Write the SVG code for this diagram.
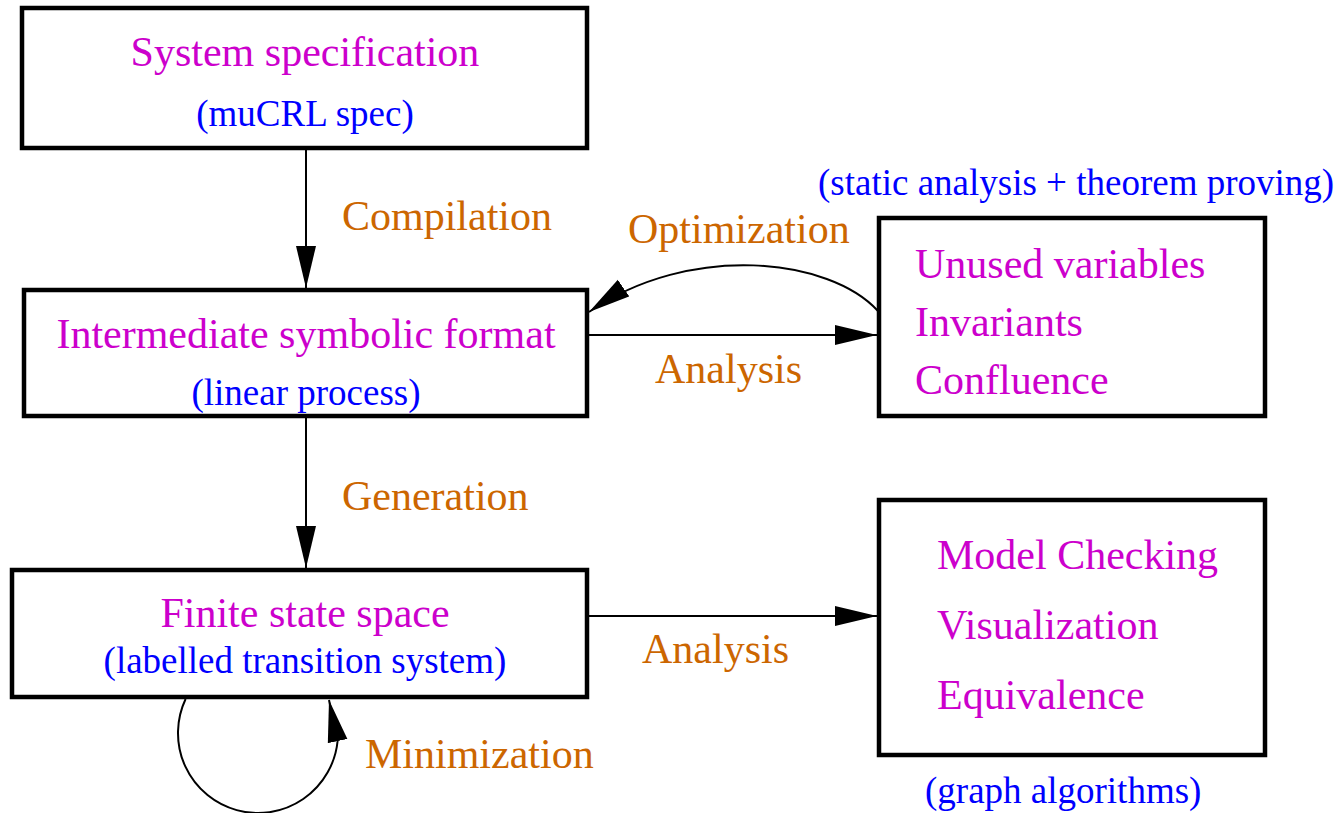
<svg xmlns="http://www.w3.org/2000/svg" width="1341" height="813" viewBox="0 0 1341 813">
  <defs>
    <marker id="arrow" markerUnits="userSpaceOnUse" markerWidth="44" markerHeight="22" viewBox="0 0 44 22" refX="42" refY="11" orient="auto">
      <path d="M0,1 L42,11 L0,21 z" fill="#000"/>
    </marker>
    <style>
      .box { fill: #fff; stroke: #000; stroke-width: 4.5; }
      .edge { fill: none; stroke: #000; stroke-width: 2; marker-end: url(#arrow); }
      text { font-family: "Liberation Serif", "Times New Roman", serif; }
      .title { fill: #cc00cc; font-size: 42px; }
      .sub { fill: #0000ff; font-size: 37px; }
      .lbl { fill: #cc6600; font-size: 42px; }
      .mid { text-anchor: middle; }
    </style>
  </defs>
  <rect width="1341" height="813" fill="#fff"/>

  <!-- connectors -->
  <g id="edges">
    <path class="edge" d="M306,148 L306,288"/>
    <path class="edge" d="M587,335 L877,335"/>
    <path class="edge" d="M878,311 C830,258 690,242 589,312"/>
    <path class="edge" d="M306,416 L306,568"/>
    <path class="edge" d="M587,616 L877,616"/>
    <path class="edge" d="M185.6,699 A80,80 0 1 0 337.6,741 L329,700"/>
  </g>

  <!-- edge labels -->
  <g id="labels">
    <text class="lbl" x="342" y="230">Compilation</text>
    <text class="lbl" x="628" y="243">Optimization</text>
    <text class="lbl" x="655" y="383">Analysis</text>
    <text class="lbl" x="342" y="510">Generation</text>
    <text class="lbl" x="642" y="663">Analysis</text>
    <text class="lbl" x="365" y="768">Minimization</text>
  </g>

  <g id="spec">
    <rect class="box" x="22" y="8" width="565" height="140"/>
    <text class="title mid" x="305" y="66">System specification</text>
    <text class="sub mid" x="305" y="126">(muCRL spec)</text>
  </g>

  <g id="intermediate">
    <rect class="box" x="24" y="290" width="563" height="126"/>
    <text class="title mid" x="306" y="348">Intermediate symbolic format</text>
    <text class="sub mid" x="306" y="405">(linear process)</text>
  </g>

  <g id="lts">
    <rect class="box" x="12" y="570" width="575" height="127"/>
    <text class="title mid" x="305" y="627">Finite state space</text>
    <text class="sub mid" x="305" y="673">(labelled transition system)</text>
  </g>

  <g id="static">
    <text class="sub" x="818" y="195">(static analysis + theorem proving)</text>
    <rect class="box" x="879" y="218" width="386" height="198"/>
    <text class="title" x="915" y="278">Unused variables</text>
    <text class="title" x="915" y="336">Invariants</text>
    <text class="title" x="915" y="394">Confluence</text>
  </g>

  <g id="graph">
    <rect class="box" x="879" y="500" width="386" height="255"/>
    <text class="title" x="937" y="569">Model Checking</text>
    <text class="title" x="937" y="639">Visualization</text>
    <text class="title" x="937" y="709">Equivalence</text>
    <text class="sub" x="925" y="803">(graph algorithms)</text>
  </g>
</svg>
